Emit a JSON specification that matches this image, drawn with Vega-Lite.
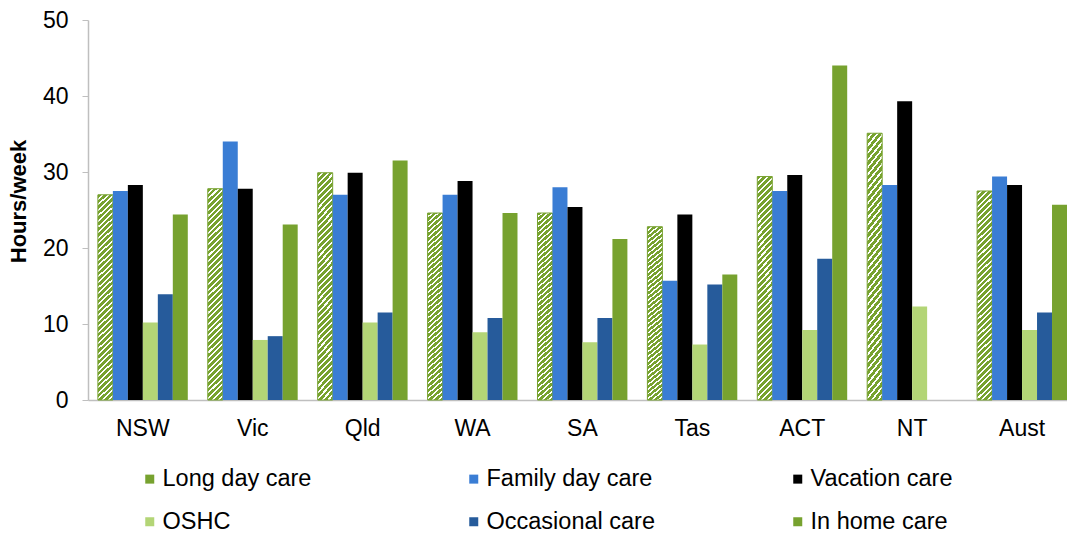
{
  "$schema": "https://vega.github.io/schema/vega-lite/v6.json",
  "width": 979,
  "height": 380,
  "autosize": {"type": "none"},
  "padding": {"left": 88, "top": 20, "right": 0, "bottom": 134},
  "background": "white",
  "config": {
    "view": {"stroke": null},
    "font": "Liberation Sans",
    "axis": {"labelFont": "Liberation Sans", "titleFont": "Liberation Sans", "labelColor": "#000000", "titleColor": "#000000", "domainColor": "#bfbfbf", "tickColor": "#bfbfbf", "grid": false},
    "legend": {"labelFont": "Liberation Sans", "labelColor": "#000000"}
  },
  "data": {
    "values": [
      {"state": "NSW", "series": "Long day care", "hours": 27.0},
      {"state": "NSW", "series": "Family day care", "hours": 27.5},
      {"state": "NSW", "series": "Vacation care", "hours": 28.3},
      {"state": "NSW", "series": "OSHC", "hours": 10.2},
      {"state": "NSW", "series": "Occasional care", "hours": 13.9},
      {"state": "NSW", "series": "In home care", "hours": 24.4},
      {"state": "Vic", "series": "Long day care", "hours": 27.8},
      {"state": "Vic", "series": "Family day care", "hours": 34.0},
      {"state": "Vic", "series": "Vacation care", "hours": 27.8},
      {"state": "Vic", "series": "OSHC", "hours": 7.9},
      {"state": "Vic", "series": "Occasional care", "hours": 8.4},
      {"state": "Vic", "series": "In home care", "hours": 23.1},
      {"state": "Qld", "series": "Long day care", "hours": 29.9},
      {"state": "Qld", "series": "Family day care", "hours": 27.0},
      {"state": "Qld", "series": "Vacation care", "hours": 29.9},
      {"state": "Qld", "series": "OSHC", "hours": 10.2},
      {"state": "Qld", "series": "Occasional care", "hours": 11.5},
      {"state": "Qld", "series": "In home care", "hours": 31.5},
      {"state": "WA", "series": "Long day care", "hours": 24.6},
      {"state": "WA", "series": "Family day care", "hours": 27.0},
      {"state": "WA", "series": "Vacation care", "hours": 28.8},
      {"state": "WA", "series": "OSHC", "hours": 8.9},
      {"state": "WA", "series": "Occasional care", "hours": 10.8},
      {"state": "WA", "series": "In home care", "hours": 24.6},
      {"state": "SA", "series": "Long day care", "hours": 24.6},
      {"state": "SA", "series": "Family day care", "hours": 28.0},
      {"state": "SA", "series": "Vacation care", "hours": 25.4},
      {"state": "SA", "series": "OSHC", "hours": 7.6},
      {"state": "SA", "series": "Occasional care", "hours": 10.8},
      {"state": "SA", "series": "In home care", "hours": 21.2},
      {"state": "Tas", "series": "Long day care", "hours": 22.8},
      {"state": "Tas", "series": "Family day care", "hours": 15.7},
      {"state": "Tas", "series": "Vacation care", "hours": 24.4},
      {"state": "Tas", "series": "OSHC", "hours": 7.3},
      {"state": "Tas", "series": "Occasional care", "hours": 15.2},
      {"state": "Tas", "series": "In home care", "hours": 16.5},
      {"state": "ACT", "series": "Long day care", "hours": 29.4},
      {"state": "ACT", "series": "Family day care", "hours": 27.5},
      {"state": "ACT", "series": "Vacation care", "hours": 29.6},
      {"state": "ACT", "series": "OSHC", "hours": 9.2},
      {"state": "ACT", "series": "Occasional care", "hours": 18.6},
      {"state": "ACT", "series": "In home care", "hours": 44.0},
      {"state": "NT", "series": "Long day care", "hours": 35.1},
      {"state": "NT", "series": "Family day care", "hours": 28.3},
      {"state": "NT", "series": "Vacation care", "hours": 39.3},
      {"state": "NT", "series": "OSHC", "hours": 12.3},
      {"state": "Aust", "series": "Long day care", "hours": 27.5},
      {"state": "Aust", "series": "Family day care", "hours": 29.4},
      {"state": "Aust", "series": "Vacation care", "hours": 28.3},
      {"state": "Aust", "series": "OSHC", "hours": 9.2},
      {"state": "Aust", "series": "Occasional care", "hours": 11.5},
      {"state": "Aust", "series": "In home care", "hours": 25.7}
    ]
  },
  "mark": {"type": "bar", "strokeWidth": 1},
  "encoding": {
    "x": {
      "field": "state", "type": "nominal",
      "sort": ["NSW", "Vic", "Qld", "WA", "SA", "Tas", "ACT", "NT", "Aust"],
      "scale": {"paddingInner": 0.182, "paddingOuter": 0.045, "align": 1},
      "axis": {"title": null, "labelAngle": 0, "labelFontSize": 23, "ticks": false, "labelPadding": 17, "domainWidth": 1.5}
    },
    "xOffset": {
      "field": "series", "type": "nominal",
      "sort": ["Long day care", "Family day care", "Vacation care", "OSHC", "Occasional care", "In home care"],
      "scale": {"paddingInner": 0, "paddingOuter": 0}
    },
    "y": {
      "field": "hours", "type": "quantitative",
      "scale": {"domain": [0, 50]},
      "axis": {"values": [0, 10, 20, 30, 40, 50], "title": "Hours/week", "titleFontSize": 22, "titleFontWeight": "bold", "labelFontSize": 23, "tickSize": 6, "labelPadding": 14, "domainWidth": 1.5, "titleX": -70, "titleY": 181, "titleAngle": -90, "titleBaseline": "middle", "titleAlign": "center"}
    },
    "fill": {
      "field": "series", "type": "nominal",
      "sort": ["Long day care", "Family day care", "Vacation care", "OSHC", "Occasional care", "In home care"],
      "scale": {
        "domain": ["Long day care", "Family day care", "Vacation care", "OSHC", "Occasional care", "In home care"],
        "range": ["#77a22f", "#3a7dd4", "#000000", "#b3d576", "#265b9b", "#77a22f"]
      },
      "legend": {"title": null, "orient": "none", "legendX": 50, "legendY": 447, "direction": "horizontal", "columns": 3, "symbolType": "square", "symbolSize": 81, "symbolStrokeWidth": 0, "labelFontSize": 23.5, "labelOffset": 1, "labelLimit": 400, "columnPadding": 131, "rowPadding": 18, "gridAlign": "all", "padding": 0},
      "condition": {
        "test": "datum.series === 'Long day care'",
        "value": {
          "gradient": "linear", "x1": 0, "y1": 0, "x2": 0.075, "y2": 1.075,
          "stops": [
            {"offset": 0, "color": "#77a22f"}, {"offset": 0.016, "color": "#77a22f"}, {"offset": 0.016, "color": "#ffffff"}, {"offset": 0.025, "color": "#ffffff"},
            {"offset": 0.025, "color": "#77a22f"}, {"offset": 0.041, "color": "#77a22f"}, {"offset": 0.041, "color": "#ffffff"}, {"offset": 0.05, "color": "#ffffff"},
            {"offset": 0.05, "color": "#77a22f"}, {"offset": 0.066, "color": "#77a22f"}, {"offset": 0.066, "color": "#ffffff"}, {"offset": 0.075, "color": "#ffffff"},
            {"offset": 0.075, "color": "#77a22f"}, {"offset": 0.091, "color": "#77a22f"}, {"offset": 0.091, "color": "#ffffff"}, {"offset": 0.1, "color": "#ffffff"},
            {"offset": 0.1, "color": "#77a22f"}, {"offset": 0.116, "color": "#77a22f"}, {"offset": 0.116, "color": "#ffffff"}, {"offset": 0.125, "color": "#ffffff"},
            {"offset": 0.125, "color": "#77a22f"}, {"offset": 0.141, "color": "#77a22f"}, {"offset": 0.141, "color": "#ffffff"}, {"offset": 0.15, "color": "#ffffff"},
            {"offset": 0.15, "color": "#77a22f"}, {"offset": 0.166, "color": "#77a22f"}, {"offset": 0.166, "color": "#ffffff"}, {"offset": 0.175, "color": "#ffffff"},
            {"offset": 0.175, "color": "#77a22f"}, {"offset": 0.191, "color": "#77a22f"}, {"offset": 0.191, "color": "#ffffff"}, {"offset": 0.2, "color": "#ffffff"},
            {"offset": 0.2, "color": "#77a22f"}, {"offset": 0.216, "color": "#77a22f"}, {"offset": 0.216, "color": "#ffffff"}, {"offset": 0.225, "color": "#ffffff"},
            {"offset": 0.225, "color": "#77a22f"}, {"offset": 0.241, "color": "#77a22f"}, {"offset": 0.241, "color": "#ffffff"}, {"offset": 0.25, "color": "#ffffff"},
            {"offset": 0.25, "color": "#77a22f"}, {"offset": 0.266, "color": "#77a22f"}, {"offset": 0.266, "color": "#ffffff"}, {"offset": 0.275, "color": "#ffffff"},
            {"offset": 0.275, "color": "#77a22f"}, {"offset": 0.291, "color": "#77a22f"}, {"offset": 0.291, "color": "#ffffff"}, {"offset": 0.3, "color": "#ffffff"},
            {"offset": 0.3, "color": "#77a22f"}, {"offset": 0.316, "color": "#77a22f"}, {"offset": 0.316, "color": "#ffffff"}, {"offset": 0.325, "color": "#ffffff"},
            {"offset": 0.325, "color": "#77a22f"}, {"offset": 0.341, "color": "#77a22f"}, {"offset": 0.341, "color": "#ffffff"}, {"offset": 0.35, "color": "#ffffff"},
            {"offset": 0.35, "color": "#77a22f"}, {"offset": 0.366, "color": "#77a22f"}, {"offset": 0.366, "color": "#ffffff"}, {"offset": 0.375, "color": "#ffffff"},
            {"offset": 0.375, "color": "#77a22f"}, {"offset": 0.391, "color": "#77a22f"}, {"offset": 0.391, "color": "#ffffff"}, {"offset": 0.4, "color": "#ffffff"},
            {"offset": 0.4, "color": "#77a22f"}, {"offset": 0.416, "color": "#77a22f"}, {"offset": 0.416, "color": "#ffffff"}, {"offset": 0.425, "color": "#ffffff"},
            {"offset": 0.425, "color": "#77a22f"}, {"offset": 0.441, "color": "#77a22f"}, {"offset": 0.441, "color": "#ffffff"}, {"offset": 0.45, "color": "#ffffff"},
            {"offset": 0.45, "color": "#77a22f"}, {"offset": 0.466, "color": "#77a22f"}, {"offset": 0.466, "color": "#ffffff"}, {"offset": 0.475, "color": "#ffffff"},
            {"offset": 0.475, "color": "#77a22f"}, {"offset": 0.491, "color": "#77a22f"}, {"offset": 0.491, "color": "#ffffff"}, {"offset": 0.5, "color": "#ffffff"},
            {"offset": 0.5, "color": "#77a22f"}, {"offset": 0.516, "color": "#77a22f"}, {"offset": 0.516, "color": "#ffffff"}, {"offset": 0.525, "color": "#ffffff"},
            {"offset": 0.525, "color": "#77a22f"}, {"offset": 0.541, "color": "#77a22f"}, {"offset": 0.541, "color": "#ffffff"}, {"offset": 0.55, "color": "#ffffff"},
            {"offset": 0.55, "color": "#77a22f"}, {"offset": 0.566, "color": "#77a22f"}, {"offset": 0.566, "color": "#ffffff"}, {"offset": 0.575, "color": "#ffffff"},
            {"offset": 0.575, "color": "#77a22f"}, {"offset": 0.591, "color": "#77a22f"}, {"offset": 0.591, "color": "#ffffff"}, {"offset": 0.6, "color": "#ffffff"},
            {"offset": 0.6, "color": "#77a22f"}, {"offset": 0.616, "color": "#77a22f"}, {"offset": 0.616, "color": "#ffffff"}, {"offset": 0.625, "color": "#ffffff"},
            {"offset": 0.625, "color": "#77a22f"}, {"offset": 0.641, "color": "#77a22f"}, {"offset": 0.641, "color": "#ffffff"}, {"offset": 0.65, "color": "#ffffff"},
            {"offset": 0.65, "color": "#77a22f"}, {"offset": 0.666, "color": "#77a22f"}, {"offset": 0.666, "color": "#ffffff"}, {"offset": 0.675, "color": "#ffffff"},
            {"offset": 0.675, "color": "#77a22f"}, {"offset": 0.691, "color": "#77a22f"}, {"offset": 0.691, "color": "#ffffff"}, {"offset": 0.7, "color": "#ffffff"},
            {"offset": 0.7, "color": "#77a22f"}, {"offset": 0.716, "color": "#77a22f"}, {"offset": 0.716, "color": "#ffffff"}, {"offset": 0.725, "color": "#ffffff"},
            {"offset": 0.725, "color": "#77a22f"}, {"offset": 0.741, "color": "#77a22f"}, {"offset": 0.741, "color": "#ffffff"}, {"offset": 0.75, "color": "#ffffff"},
            {"offset": 0.75, "color": "#77a22f"}, {"offset": 0.766, "color": "#77a22f"}, {"offset": 0.766, "color": "#ffffff"}, {"offset": 0.775, "color": "#ffffff"},
            {"offset": 0.775, "color": "#77a22f"}, {"offset": 0.791, "color": "#77a22f"}, {"offset": 0.791, "color": "#ffffff"}, {"offset": 0.8, "color": "#ffffff"},
            {"offset": 0.8, "color": "#77a22f"}, {"offset": 0.816, "color": "#77a22f"}, {"offset": 0.816, "color": "#ffffff"}, {"offset": 0.825, "color": "#ffffff"},
            {"offset": 0.825, "color": "#77a22f"}, {"offset": 0.841, "color": "#77a22f"}, {"offset": 0.841, "color": "#ffffff"}, {"offset": 0.85, "color": "#ffffff"},
            {"offset": 0.85, "color": "#77a22f"}, {"offset": 0.866, "color": "#77a22f"}, {"offset": 0.866, "color": "#ffffff"}, {"offset": 0.875, "color": "#ffffff"},
            {"offset": 0.875, "color": "#77a22f"}, {"offset": 0.891, "color": "#77a22f"}, {"offset": 0.891, "color": "#ffffff"}, {"offset": 0.9, "color": "#ffffff"},
            {"offset": 0.9, "color": "#77a22f"}, {"offset": 0.916, "color": "#77a22f"}, {"offset": 0.916, "color": "#ffffff"}, {"offset": 0.925, "color": "#ffffff"},
            {"offset": 0.925, "color": "#77a22f"}, {"offset": 0.941, "color": "#77a22f"}, {"offset": 0.941, "color": "#ffffff"}, {"offset": 0.95, "color": "#ffffff"},
            {"offset": 0.95, "color": "#77a22f"}, {"offset": 0.966, "color": "#77a22f"}, {"offset": 0.966, "color": "#ffffff"}, {"offset": 0.975, "color": "#ffffff"},
            {"offset": 0.975, "color": "#77a22f"}, {"offset": 0.991, "color": "#77a22f"}, {"offset": 0.991, "color": "#ffffff"}, {"offset": 1, "color": "#ffffff"}
          ]
        }
      }
    },
    "stroke": {"condition": {"test": "datum.series === 'Long day care'", "value": "#77a22f"}, "value": null}
  }
}
